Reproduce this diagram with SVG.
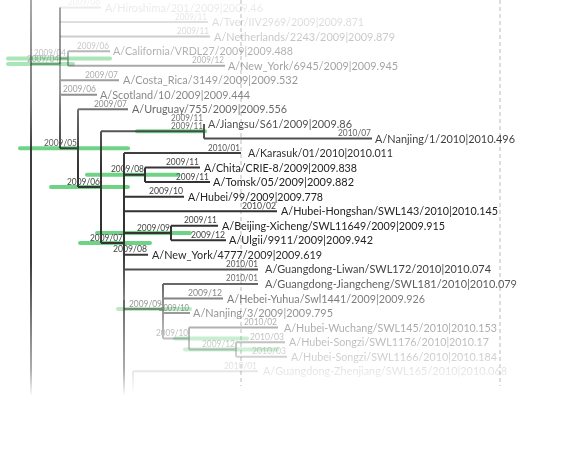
<svg xmlns="http://www.w3.org/2000/svg" width="569" height="451" viewBox="0 0 569 451">
<style>
.br{fill:none;stroke:#333;stroke-width:2;stroke-linecap:butt}
.ci{fill:none;stroke:#4cc96a;stroke-width:4;stroke-linecap:round;opacity:0.85}
.ci.lo{opacity:0.55}
.nm{font-family:Lato,"Liberation Sans",sans-serif;font-size:12px;fill:#222}
.dt{font-family:Lato,"Liberation Sans",sans-serif;font-size:8.5px;fill:#444;text-anchor:end}
.grid{stroke:#bbb;stroke-width:1;stroke-dasharray:4 3;fill:none}
</style>
<defs>
<linearGradient id="fg" gradientUnits="userSpaceOnUse" x1="0" y1="0" x2="0" y2="451">
<stop offset="0" stop-color="#fff" stop-opacity="0.08"/>
<stop offset="0.022" stop-color="#fff" stop-opacity="0.1"/>
<stop offset="0.055" stop-color="#fff" stop-opacity="0.17"/>
<stop offset="0.089" stop-color="#fff" stop-opacity="0.27"/>
<stop offset="0.122" stop-color="#fff" stop-opacity="0.38"/>
<stop offset="0.177" stop-color="#fff" stop-opacity="0.47"/>
<stop offset="0.211" stop-color="#fff" stop-opacity="0.55"/>
<stop offset="0.244" stop-color="#fff" stop-opacity="0.7"/>
<stop offset="0.277" stop-color="#fff" stop-opacity="0.8"/>
<stop offset="0.31" stop-color="#fff" stop-opacity="0.87"/>
<stop offset="0.344" stop-color="#fff" stop-opacity="0.95"/>
<stop offset="0.377" stop-color="#fff" stop-opacity="1"/>
<stop offset="0.554" stop-color="#fff" stop-opacity="1"/>
<stop offset="0.594" stop-color="#fff" stop-opacity="0.88"/>
<stop offset="0.627" stop-color="#fff" stop-opacity="0.75"/>
<stop offset="0.661" stop-color="#fff" stop-opacity="0.6"/>
<stop offset="0.694" stop-color="#fff" stop-opacity="0.5"/>
<stop offset="0.727" stop-color="#fff" stop-opacity="0.38"/>
<stop offset="0.758" stop-color="#fff" stop-opacity="0.3"/>
<stop offset="0.792" stop-color="#fff" stop-opacity="0.22"/>
<stop offset="0.823" stop-color="#fff" stop-opacity="0.12"/>
<stop offset="0.856" stop-color="#fff" stop-opacity="0.04"/>
<stop offset="0.876" stop-color="#fff" stop-opacity="0"/>
</linearGradient>
<linearGradient id="fg2" gradientUnits="userSpaceOnUse" x1="0" y1="0" x2="0" y2="451">
<stop offset="0" stop-color="#fff" stop-opacity="0.42"/>
<stop offset="0.22" stop-color="#fff" stop-opacity="0.65"/>
<stop offset="0.33" stop-color="#fff" stop-opacity="0.95"/>
<stop offset="0.58" stop-color="#fff" stop-opacity="0.95"/>
<stop offset="0.73" stop-color="#fff" stop-opacity="0.6"/>
<stop offset="0.82" stop-color="#fff" stop-opacity="0.4"/>
<stop offset="0.865" stop-color="#fff" stop-opacity="0.1"/>
<stop offset="0.88" stop-color="#fff" stop-opacity="0"/>
</linearGradient>
<mask id="fade" maskUnits="userSpaceOnUse" x="0" y="0" width="569" height="451">
<rect x="0" y="0" width="569" height="451" fill="url(#fg)"/>
</mask>
<mask id="fade2" maskUnits="userSpaceOnUse" x="0" y="0" width="569" height="451">
<rect x="0" y="0" width="569" height="451" fill="url(#fg2)"/>
</mask>
</defs>
<rect width="569" height="451" fill="#fff"/>
<g id="grid">
<line class="grid" x1="500" y1="0" x2="500" y2="386"/>
<line class="grid" x1="241" y1="0" x2="241" y2="386"/>
</g>
<g id="confidence" mask="url(#fade2)">
<line class="ci" x1="8" y1="58.4" x2="110" y2="58.4"/>
<line class="ci" x1="8" y1="64" x2="73" y2="64"/>
<line class="ci" x1="20" y1="148.2" x2="128" y2="148.2"/>
<line class="ci" x1="51" y1="187.1" x2="128" y2="187.1"/>
<line class="ci" x1="137" y1="131.2" x2="205" y2="131.2"/>
<line class="ci" x1="87" y1="174.8" x2="178" y2="174.8"/>
<line class="ci" x1="97" y1="233" x2="190" y2="233"/>
<line class="ci" x1="80" y1="243" x2="150" y2="243"/>
<line class="ci lo" x1="118" y1="309" x2="190" y2="309"/>
<line class="ci lo" x1="175" y1="338.5" x2="247" y2="338.5"/>
<line class="ci lo" x1="185" y1="349.4" x2="277" y2="349.4"/>
</g>
<g id="backbone" mask="url(#fade2)">
<path class="br" d="M31,0V395M60,7.5V64M124,300V395"/>
</g>
<g mask="url(#fade)">
<g id="connectors">
<path class="br" d="M31,64H60M60,64V148.2"/>
<path class="br" d="M60,58.4H68M68,51.15V65.7"/>
<path class="br" d="M60,148.2H78M78,109.35V187.1"/>
<path class="br" d="M78,187.1H101M101,131.2V243"/>
<path class="br" d="M101,131.2H204M204,123.9V138.45"/>
<path class="br" d="M101,243H124M124,153V300"/>
<path class="br" d="M124,174.8H145M145,167.55V182.1"/>
<path class="br" d="M124,233H171M171,225.75V240.3"/>
<path class="br" d="M124,309H163M163,283.95V338.5"/>
<path class="br" d="M163,338.5H189M189,327.6V349.4"/>
<path class="br" d="M189,349.4H236M236,342.15V356.7"/>
<path class="br" d="M133,371.25V395"/>
<path class="br" d="M60,7.5H101M60,22.05H208M60,36.6H210M68,51.15H110M68,65.7H225M60,80.25H119M60,94.8H97M78,109.35H128M204,138.45H372M124,153H241M145,167.55H200M145,182.1H210M124,196.65H184M124,211.2H277M171,225.75H218M171,240.3H226M124,254.85H148M124,269.4H258M163,283.95H258M163,298.5H223M163,313.05H190M189,327.6H278M236,342.15H285M236,356.7H287M133,371.25H258"/>
</g>
<g id="n-root-a"><text class="dt" x="59" y="61.5" textLength="32" lengthAdjust="spacingAndGlyphs">2009/04</text></g>
<g id="n-ca-ny"><text class="dt" x="66" y="56" textLength="32" lengthAdjust="spacingAndGlyphs">2009/04</text></g>
<g id="n-main"><text class="dt" x="77" y="145.7" textLength="33" lengthAdjust="spacingAndGlyphs">2009/05</text></g>
<g id="n-sub"><text class="dt" x="100" y="184.6" textLength="33" lengthAdjust="spacingAndGlyphs">2009/06</text></g>
<g id="n-jiangsu"><text class="dt" x="203" y="128.7" textLength="32" lengthAdjust="spacingAndGlyphs">2009/11</text></g>
<g id="n-clade"><text class="dt" x="123" y="240.5" textLength="33" lengthAdjust="spacingAndGlyphs">2009/07</text></g>
<g id="n-chita"><text class="dt" x="144" y="172.3" textLength="33" lengthAdjust="spacingAndGlyphs">2009/08</text></g>
<g id="n-beijing"><text class="dt" x="170" y="230.5" textLength="33" lengthAdjust="spacingAndGlyphs">2009/09</text></g>
<g id="n-guangdong"><text class="dt" x="162" y="306.5" textLength="33" lengthAdjust="spacingAndGlyphs">2009/09</text></g>
<g id="n-wuchang"><text class="dt" x="188" y="336" textLength="32" lengthAdjust="spacingAndGlyphs">2009/10</text></g>
<g id="n-songzi"><text class="dt" x="235" y="346.9" textLength="33" lengthAdjust="spacingAndGlyphs">2009/12</text></g>
<g id="t1"><text class="dt" x="100" y="5" textLength="32" lengthAdjust="spacingAndGlyphs">2009/06</text><text class="nm" x="105" y="11.5" textLength="158" lengthAdjust="spacingAndGlyphs">A/Hiroshima/201/2009|2009.46</text></g>
<g id="t2"><text class="dt" x="207" y="19.5" textLength="32" lengthAdjust="spacingAndGlyphs">2009/11</text><text class="nm" x="212" y="26" textLength="152" lengthAdjust="spacingAndGlyphs">A/Tver/IIV2969/2009|2009.871</text></g>
<g id="t3"><text class="dt" x="209" y="34.1" textLength="32" lengthAdjust="spacingAndGlyphs">2009/11</text><text class="nm" x="214" y="40.6" textLength="181" lengthAdjust="spacingAndGlyphs">A/Netherlands/2243/2009|2009.879</text></g>
<g id="t4"><text class="dt" x="109" y="48.6" textLength="32" lengthAdjust="spacingAndGlyphs">2009/06</text><text class="nm" x="113" y="55.2" textLength="180" lengthAdjust="spacingAndGlyphs">A/California/VRDL27/2009|2009.488</text></g>
<g id="t5"><text class="dt" x="224" y="63.2" textLength="32" lengthAdjust="spacingAndGlyphs">2009/12</text><text class="nm" x="228" y="69.7" textLength="170" lengthAdjust="spacingAndGlyphs">A/New_York/6945/2009|2009.945</text></g>
<g id="t6"><text class="dt" x="118" y="77.7" textLength="33" lengthAdjust="spacingAndGlyphs">2009/07</text><text class="nm" x="123" y="84.3" textLength="175" lengthAdjust="spacingAndGlyphs">A/Costa_Rica/3149/2009|2009.532</text></g>
<g id="t7"><text class="dt" x="96" y="92.3" textLength="33" lengthAdjust="spacingAndGlyphs">2009/06</text><text class="nm" x="100" y="98.8" textLength="150" lengthAdjust="spacingAndGlyphs">A/Scotland/10/2009|2009.444</text></g>
<g id="t8"><text class="dt" x="127" y="106.8" textLength="33" lengthAdjust="spacingAndGlyphs">2009/07</text><text class="nm" x="132" y="113.4" textLength="155" lengthAdjust="spacingAndGlyphs">A/Uruguay/755/2009|2009.556</text></g>
<g id="t9"><text class="dt" x="203" y="121.4" textLength="32" lengthAdjust="spacingAndGlyphs">2009/11</text><text class="nm" x="208" y="127.9" textLength="144" lengthAdjust="spacingAndGlyphs">A/Jiangsu/S61/2009|2009.86</text></g>
<g id="t10"><text class="dt" x="371" y="135.9" textLength="33" lengthAdjust="spacingAndGlyphs">2010/07</text><text class="nm" x="375" y="142.5" textLength="140" lengthAdjust="spacingAndGlyphs">A/Nanjing/1/2010|2010.496</text></g>
<g id="t11"><text class="dt" x="240" y="150.5" textLength="32" lengthAdjust="spacingAndGlyphs">2010/01</text><text class="nm" x="248" y="157" textLength="145" lengthAdjust="spacingAndGlyphs">A/Karasuk/01/2010|2010.011</text></g>
<g id="t12"><text class="dt" x="199" y="165" textLength="33" lengthAdjust="spacingAndGlyphs">2009/11</text><text class="nm" x="204" y="171.5" textLength="153" lengthAdjust="spacingAndGlyphs">A/Chita/CRIE-8/2009|2009.838</text></g>
<g id="t13"><text class="dt" x="209" y="179.6" textLength="33" lengthAdjust="spacingAndGlyphs">2009/11</text><text class="nm" x="213" y="186.1" textLength="141" lengthAdjust="spacingAndGlyphs">A/Tomsk/05/2009|2009.882</text></g>
<g id="t14"><text class="dt" x="183" y="194.1" textLength="34" lengthAdjust="spacingAndGlyphs">2009/10</text><text class="nm" x="188" y="200.6" textLength="135" lengthAdjust="spacingAndGlyphs">A/Hubei/99/2009|2009.778</text></g>
<g id="t15"><text class="dt" x="276" y="208.7" textLength="34" lengthAdjust="spacingAndGlyphs">2010/02</text><text class="nm" x="281" y="215.2" textLength="217" lengthAdjust="spacingAndGlyphs">A/Hubei-Hongshan/SWL143/2010|2010.145</text></g>
<g id="t16"><text class="dt" x="217" y="223.2" textLength="33" lengthAdjust="spacingAndGlyphs">2009/11</text><text class="nm" x="222" y="229.7" textLength="223" lengthAdjust="spacingAndGlyphs">A/Beijing-Xicheng/SWL11649/2009|2009.915</text></g>
<g id="t17"><text class="dt" x="225" y="237.8" textLength="34" lengthAdjust="spacingAndGlyphs">2009/12</text><text class="nm" x="229" y="244.3" textLength="144" lengthAdjust="spacingAndGlyphs">A/Ulgii/9911/2009|2009.942</text></g>
<g id="t18"><text class="dt" x="147" y="252.3" textLength="34" lengthAdjust="spacingAndGlyphs">2009/08</text><text class="nm" x="152" y="258.8" textLength="170" lengthAdjust="spacingAndGlyphs">A/New_York/4777/2009|2009.619</text></g>
<g id="t19"><text class="dt" x="258" y="266.9" textLength="32" lengthAdjust="spacingAndGlyphs">2010/01</text><text class="nm" x="265" y="273.4" textLength="226" lengthAdjust="spacingAndGlyphs">A/Guangdong-Liwan/SWL172/2010|2010.074</text></g>
<g id="t20"><text class="dt" x="258" y="281.4" textLength="32" lengthAdjust="spacingAndGlyphs">2010/01</text><text class="nm" x="265" y="287.9" textLength="252" lengthAdjust="spacingAndGlyphs">A/Guangdong-Jiangcheng/SWL181/2010|2010.079</text></g>
<g id="t21"><text class="dt" x="222" y="296" textLength="34" lengthAdjust="spacingAndGlyphs">2009/12</text><text class="nm" x="227" y="302.5" textLength="198" lengthAdjust="spacingAndGlyphs">A/Hebei-Yuhua/Swl1441/2009|2009.926</text></g>
<g id="t22"><text class="dt" x="189" y="310.5" textLength="30" lengthAdjust="spacingAndGlyphs">2009/10</text><text class="nm" x="193" y="317" textLength="140" lengthAdjust="spacingAndGlyphs">A/Nanjing/3/2009|2009.795</text></g>
<g id="t23"><text class="dt" x="277" y="325.1" textLength="33" lengthAdjust="spacingAndGlyphs">2010/02</text><text class="nm" x="284" y="331.6" textLength="213" lengthAdjust="spacingAndGlyphs">A/Hubei-Wuchang/SWL145/2010|2010.153</text></g>
<g id="t24"><text class="dt" x="284" y="339.6" textLength="34" lengthAdjust="spacingAndGlyphs">2010/03</text><text class="nm" x="289" y="346.1" textLength="200" lengthAdjust="spacingAndGlyphs">A/Hubei-Songzi/SWL1176/2010|2010.17</text></g>
<g id="t25"><text class="dt" x="286" y="354.2" textLength="34" lengthAdjust="spacingAndGlyphs">2010/03</text><text class="nm" x="291" y="360.7" textLength="206" lengthAdjust="spacingAndGlyphs">A/Hubei-Songzi/SWL1166/2010|2010.184</text></g>
<g id="t26"><text class="dt" x="257" y="368.7" textLength="33" lengthAdjust="spacingAndGlyphs">2010/01</text><text class="nm" x="263" y="375.2" textLength="244" lengthAdjust="spacingAndGlyphs">A/Guangdong-Zhenjiang/SWL165/2010|2010.068</text></g>
</g>
</svg>
